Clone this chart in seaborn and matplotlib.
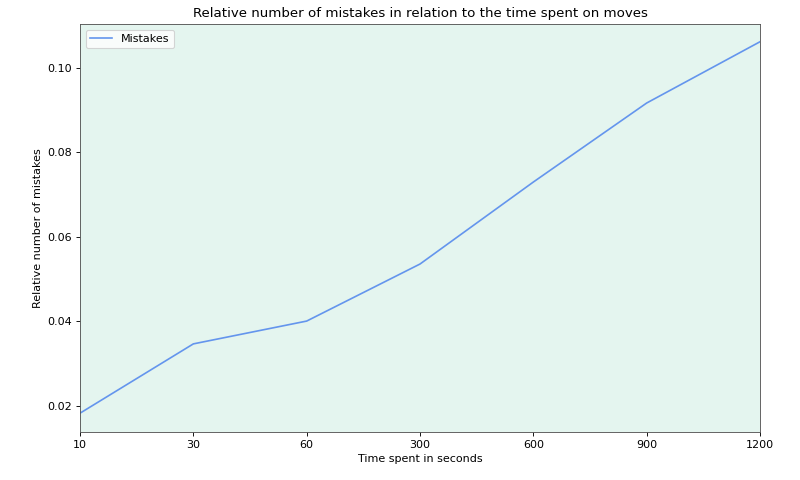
import pandas as pd
import matplotlib
matplotlib.use('Agg')
import matplotlib.pyplot as plt
import seaborn as sns

# dados
tempos = ['10', '30', '60', '300', '600', '900', '1200']
erros = [0.0183, 0.0347, 0.0401, 0.0536, 0.0730, 0.0917, 0.1062]

df = pd.DataFrame({'tempo': tempos, 'erros': erros})

fig = plt.figure(figsize=(10, 6), dpi=80)
ax = fig.add_axes([0.1, 0.1, 0.85, 0.85])
ax.set_facecolor('#e4f5ef')

sns.lineplot(data=df, x='tempo', y='erros', ax=ax, color='#6495ed',
             linewidth=1.5, label='Mistakes', sort=False)

ax.set_xlim(0, len(tempos) - 1)
ax.set_ylim(0.01385, 0.1104)
ax.set_yticks([0.02, 0.04, 0.06, 0.08, 0.10])
ax.set_title('Relative number of mistakes in relation to the time spent on moves')
ax.set_xlabel('Time spent in seconds')
ax.set_ylabel('Relative number of mistakes')
for s in ax.spines.values():
    s.set_color('#555555')
ax.legend(loc='upper left')

plt.savefig('out.png', dpi=80)
